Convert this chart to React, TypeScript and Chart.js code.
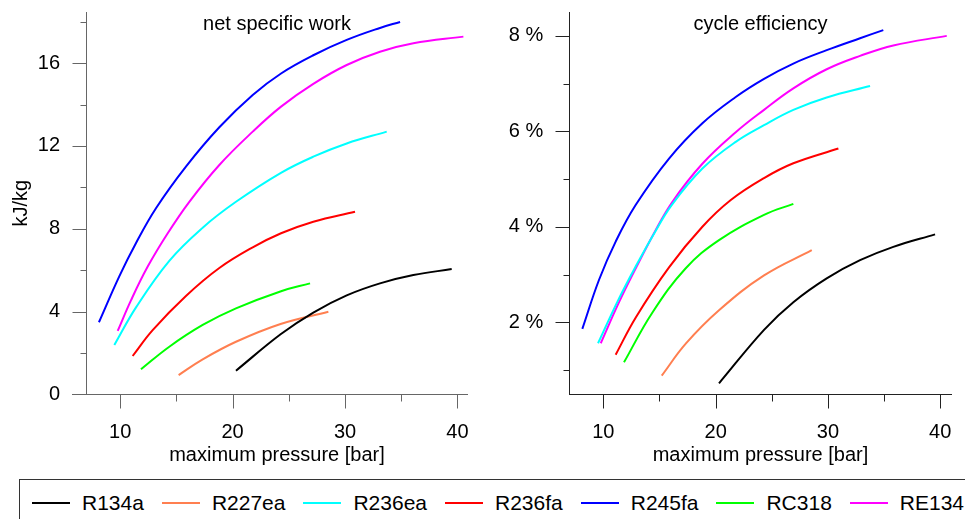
import React, { useEffect, useRef } from 'react';
import { Chart, registerables } from 'chart.js';

Chart.register(...registerables);

const SERIES = ['R134a', 'R227ea', 'R236ea', 'R236fa', 'R245fa', 'RC318', 'RE134'];
const COLORS = ['#000000', '#ff7f50', '#00ffff', '#ff0000', '#0000ff', '#00ff00', '#ff00ff'];

// ---- net specific work [kJ/kg] vs maximum pressure [bar] ----
const WORK_R134A_P = [20.3, 24.27, 27.18, 30.15, 33.11, 36.08, 39.49];
const WORK_R134A = [1.14, 2.9, 3.95, 4.78, 5.36, 5.76, 6.05];
const WORK_R227EA_P = [15.2, 17.34, 20.3, 24.27, 28.52];
const WORK_R227EA = [0.93, 1.69, 2.54, 3.4, 3.99];
const WORK_R236EA_P = [9.48, 11.41, 14.37, 17.34, 20.3, 24.3, 27.18, 30.15, 33.71];
const WORK_R236EA = [2.38, 4.2, 6.45, 8.05, 9.3, 10.7, 11.48, 12.12, 12.69];
const WORK_R236FA_P = [11.11, 12.89, 15.85, 18.82, 21.79, 24.31, 27.18, 30.89];
const WORK_R236FA = [1.85, 3.1, 4.75, 6.1, 7.1, 7.78, 8.34, 8.82];
const WORK_R245FA_P = [8.11, 9.92, 11.4, 13.2, 15.85, 18.82, 21.79, 24.31, 27.18, 30.15, 33.11, 34.9];
const WORK_R245FA = [3.48, 5.7, 7.3, 9.0, 11.0, 12.9, 14.46, 15.5, 16.38, 17.12, 17.7, 17.99];
const WORK_RC318_P = [11.85, 14.37, 17.34, 20.3, 24.31, 26.89];
const WORK_RC318 = [1.21, 2.3, 3.35, 4.15, 4.98, 5.36];
const WORK_RE134_P = [9.78, 10.97, 12.45, 14.23, 16.15, 18.82, 21.79, 24.31, 27.18, 30.15, 33.11, 36.08, 40.53];
const WORK_RE134 = [3.06, 4.55, 6.17, 7.78, 9.3, 11.08, 12.69, 13.9, 15.0, 15.91, 16.55, 16.96, 17.28];

// ---- cycle efficiency [%] vs maximum pressure [bar] ----
const EFF_R134A_P = [20.3, 24.31, 26.92, 29.89, 32.86, 35.82, 39.54];
const EFF_R134A = [0.72, 1.84, 2.42, 2.92, 3.3, 3.58, 3.84];
const EFF_R227EA_P = [15.2, 17.34, 20.3, 24.31, 28.56];
const EFF_R227EA = [0.88, 1.55, 2.25, 2.98, 3.51];
const EFF_R236EA_P = [9.53, 11.4, 13.0, 14.5, 16.1, 18.82, 21.79, 24.31, 26.92, 29.89, 33.75];
const EFF_R236EA = [1.56, 2.5, 3.22, 3.85, 4.46, 5.22, 5.78, 6.13, 6.45, 6.71, 6.95];
const EFF_R236FA_P = [11.1, 12.89, 15.85, 18.82, 21.35, 24.31, 26.92, 30.93];
const EFF_R236FA = [1.32, 2.1, 3.15, 4.0, 4.56, 5.02, 5.33, 5.64];
const EFF_R245FA_P = [8.13, 9.62, 11.1, 12.89, 15.85, 18.82, 21.79, 24.31, 26.92, 29.89, 32.86, 34.93];
const EFF_R245FA = [1.86, 2.89, 3.69, 4.46, 5.43, 6.17, 6.72, 7.1, 7.42, 7.7, 7.95, 8.12];
const EFF_RC318_P = [11.84, 14.36, 17.34, 20.3, 24.31, 26.92];
const EFF_RC318 = [1.16, 2.2, 3.13, 3.72, 4.25, 4.48];
const EFF_RE134_P = [9.77, 11.4, 13.0, 14.5, 16.14, 18.82, 21.79, 24.31, 26.92, 29.89, 32.86, 35.82, 40.58];
const EFF_RE134 = [1.56, 2.42, 3.18, 3.86, 4.52, 5.32, 5.98, 6.45, 6.9, 7.3, 7.58, 7.8, 8.0];

// ---- ticks ----
const P_TICKS = [10, 20, 30, 40];
const P_MINOR = [15, 25, 35];
const WORK_TICKS = [0, 4, 8, 12, 16];
const WORK_MINOR = [2, 6, 10, 14, 18];
const EFF_TICKS = [2, 4, 6, 8];
const EFF_MINOR = [1, 3, 5, 7];

const WORK_P = [WORK_R134A_P, WORK_R227EA_P, WORK_R236EA_P, WORK_R236FA_P, WORK_R245FA_P, WORK_RC318_P, WORK_RE134_P];
const WORK_V = [WORK_R134A, WORK_R227EA, WORK_R236EA, WORK_R236FA, WORK_R245FA, WORK_RC318, WORK_RE134];
const EFF_P = [EFF_R134A_P, EFF_R227EA_P, EFF_R236EA_P, EFF_R236FA_P, EFF_R245FA_P, EFF_RC318_P, EFF_RE134_P];
const EFF_V = [EFF_R134A, EFF_R227EA, EFF_R236EA, EFF_R236FA, EFF_R245FA, EFF_RC318, EFF_RE134];

const FONT_FAMILY = 'Arial, "Liberation Sans", sans-serif';

const axesPlugin = {
  id: 'rAxes',
  afterDraw(chart: any, _args: any, o: any) {
    const { ctx, chartArea: ca } = chart;
    const xs = chart.scales.x;
    const ys = chart.scales.y;
    ctx.save();
    ctx.strokeStyle = o.color;
    ctx.lineWidth = 1;
    ctx.beginPath();
    const ax = Math.round(ca.left) + 0.5;
    const ay = Math.round(ca.bottom) + 0.5;
    ctx.moveTo(ax, Math.round(ca.top));
    ctx.lineTo(ax, ay);
    ctx.moveTo(Math.round(ca.left - o.xExtend), ay);
    ctx.lineTo(Math.round(ca.right), ay);
    for (const v of o.yMajor) {
      const py = Math.round(ys.getPixelForValue(v)) + 0.5;
      ctx.moveTo(ax - 14, py);
      ctx.lineTo(ax, py);
    }
    for (const v of o.yMinor) {
      const py = Math.round(ys.getPixelForValue(v)) + 0.5;
      ctx.moveTo(ax - 6, py);
      ctx.lineTo(ax, py);
    }
    for (const v of o.xMajor) {
      const px = Math.round(xs.getPixelForValue(v)) + 0.5;
      ctx.moveTo(px, ay);
      ctx.lineTo(px, ay + 14);
    }
    for (const v of o.xMinor) {
      const px = Math.round(xs.getPixelForValue(v)) + 0.5;
      ctx.moveTo(px, ay);
      ctx.lineTo(px, ay + 7);
    }
    ctx.stroke();
    ctx.fillStyle = '#000';
    ctx.font = `20px ${FONT_FAMILY}`;
    ctx.textAlign = 'center';
    ctx.textBaseline = 'alphabetic';
    ctx.fillText(o.title, (ca.left + ca.right) / 2, 30);
    ctx.restore();
  },
};

type Panel = {
  p: number[][];
  v: number[][];
  xMin: number;
  xMax: number;
  yMin: number;
  yMax: number;
  yTicks: number[];
  yMinor: number[];
  yLabel: (v: number) => string;
  yTitle: string;
  title: string;
  leftWidth: number;
  padRight: number;
  xExtend: number;
  color: string;
};

function makeConfig(panel: Panel): any {
  const tickFont = { family: FONT_FAMILY, size: 20 };
  const zeroPad = (s: any) => {
    s.paddingLeft = 0;
    s.paddingRight = 0;
    s.paddingTop = 0;
    s.paddingBottom = 0;
  };
  return {
    type: 'line',
    data: {
      datasets: SERIES.map((name, i) => ({
        label: name,
        data: panel.p[i].map((p, j) => ({ x: p, y: panel.v[i][j] })),
        borderColor: COLORS[i],
        backgroundColor: COLORS[i],
        borderWidth: 2,
        pointRadius: 0,
        tension: 0.4,
        fill: false,
      })),
    },
    plugins: [axesPlugin],
    options: {
      responsive: false,
      animation: false,
      devicePixelRatio: 1,
      events: [],
      layout: { padding: { left: 0, top: 12, right: panel.padRight, bottom: 0 }, autoPadding: false },
      plugins: {
        legend: { display: false },
        tooltip: { enabled: false },
        rAxes: {
          color: panel.color,
          xExtend: panel.xExtend,
          yMajor: panel.yTicks,
          yMinor: panel.yMinor,
          xMajor: P_TICKS,
          xMinor: P_MINOR,
          title: panel.title,
        },
      },
      scales: {
        x: {
          type: 'linear',
          min: panel.xMin,
          max: panel.xMax,
          afterBuildTicks: (s: any) => {
            s.ticks = P_TICKS.map((v) => ({ value: v }));
          },
          afterFit: (s: any) => {
            s.height = 75.7;
            zeroPad(s);
          },
          grid: { display: false, drawTicks: false },
          border: { display: false },
          ticks: {
            padding: 26,
            font: tickFont,
            color: '#000',
            maxRotation: 0,
            autoSkip: false,
            callback: (v: number) => String(v),
          },
          title: {
            display: true,
            text: 'maximum pressure [bar]',
            font: { family: FONT_FAMILY, size: 20 },
            color: '#000',
            padding: { top: 0, bottom: 2.5 },
          },
        },
        y: {
          type: 'linear',
          min: panel.yMin,
          max: panel.yMax,
          afterBuildTicks: (s: any) => {
            s.ticks = panel.yTicks.map((v) => ({ value: v }));
          },
          afterFit: (s: any) => {
            s.width = panel.leftWidth;
            zeroPad(s);
          },
          grid: { display: false, drawTicks: false },
          border: { display: false },
          ticks: {
            padding: 26,
            font: tickFont,
            color: '#000',
            autoSkip: false,
            callback: (v: number) => panel.yLabel(v),
          },
          title: {
            display: panel.yTitle !== '',
            text: panel.yTitle,
            font: { family: FONT_FAMILY, size: 20 },
            color: '#000',
            padding: { top: 9.3, bottom: 0 },
          },
        },
      },
    },
  };
}

const WORK_PANEL: Panel = {
  p: WORK_P,
  v: WORK_V,
  xMin: 6.96,
  xMax: 40.94,
  yMin: 0,
  yMax: 18.47,
  yTicks: WORK_TICKS,
  yMinor: WORK_MINOR,
  yLabel: (v) => String(v),
  yTitle: 'kJ/kg',
  title: 'net specific work',
  leftWidth: 86,
  padRight: 12,
  xExtend: 14.3,
  color: '#666',
};

const EFF_PANEL: Panel = {
  p: EFF_P,
  v: EFF_V,
  xMin: 6.97,
  xMax: 41.02,
  yMin: 0.49,
  yMax: 8.5,
  yTicks: EFF_TICKS,
  yMinor: EFF_MINOR,
  yLabel: (v) => `${v} %`,
  yTitle: '',
  title: 'cycle efficiency',
  leftWidth: 89.3,
  padRight: 13.3,
  xExtend: 0,
  color: '#222',
};

function PanelChart({ panel, left, width }: { panel: Panel; left: number; width: number }) {
  const ref = useRef<HTMLCanvasElement | null>(null);
  useEffect(() => {
    if (!ref.current) return;
    const chart = new Chart(ref.current, makeConfig(panel));
    return () => chart.destroy();
  }, [panel]);
  return (
    <canvas
      ref={ref}
      width={width}
      height={470}
      style={{ position: 'absolute', left, top: 0, width, height: 470 }}
    />
  );
}

export default function App() {
  return (
    <div
      style={{
        position: 'fixed',
        left: 0,
        top: 0,
        width: 965,
        height: 519,
        overflow: 'hidden',
        background: '#fff',
      }}
    >
      <PanelChart panel={WORK_PANEL} left={0} width={480} />
      <PanelChart panel={EFF_PANEL} left={480} width={485} />
      <div
        style={{
          position: 'absolute',
          left: 19,
          top: 479,
          width: 1100,
          height: 80,
          border: '1px solid #333',
          boxSizing: 'border-box',
        }}
      >
        <div style={{ display: 'flex', alignItems: 'center', height: 46, paddingLeft: 12 }}>
          {SERIES.map((s, i) => (
            <div key={s} style={{ display: 'flex', alignItems: 'center', marginRight: 18, flex: 'none' }}>
              <span style={{ display: 'inline-block', width: 38, height: 2, background: COLORS[i] }} />
              <span
                style={{
                  marginLeft: 12,
                  font: `21px ${FONT_FAMILY}`,
                  color: '#000',
                  whiteSpace: 'nowrap',
                }}
              >
                {s}
              </span>
            </div>
          ))}
        </div>
      </div>
    </div>
  );
}
